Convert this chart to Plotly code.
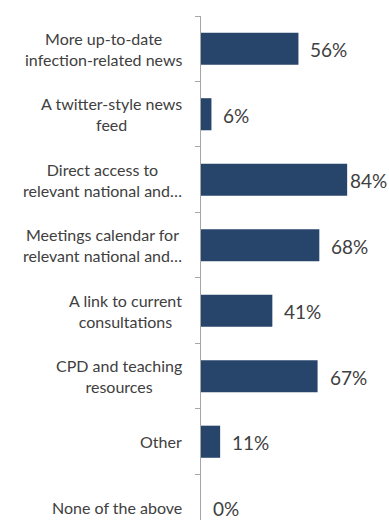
import plotly.graph_objects as go

categories = [
    "More up-to-date<br>infection-related news",
    "A twitter-style news<br>feed",
    "Direct access to<br>relevant national and…",
    "Meetings calendar for<br>relevant national and…",
    "A link to current<br>consultations",
    "CPD and teaching<br>resources",
    "Other",
    "None of the above",
]
values = [56, 6, 84, 68, 41, 67, 11, 0]
value_labels = ["56%", "6%", "84%", "68%", "41%", "67%", "11%", "0%"]
label_shift = [10, 10, 1, 10, 10, 10, 10, 10]

ids = [f"c{i}" for i in range(len(categories))]

fig = go.Figure()
fig.add_trace(go.Bar(
    x=values, y=ids, orientation="h", width=0.49,
    marker=dict(color="#27456B", line=dict(width=0)),
    hoverinfo="skip",
))

anns = []
for cid, cat in zip(ids, categories):
    anns.append(dict(
        x=0, xref="paper", y=cid, yref="y", text=cat, showarrow=False,
        xanchor="right", yanchor="middle", xshift=-17, align="center",
        font=dict(family="Lato", size=16, color="#404040"),
    ))
for cid, v, t, s in zip(ids, values, value_labels, label_shift):
    anns.append(dict(
        x=v, xref="x", y=cid, yref="y", text=t, showarrow=False,
        xanchor="left", yanchor="middle", xshift=s, yshift=-1,
        font=dict(family="Lato", size=19, color="#404040"),
    ))

fig.update_layout(
    width=389, height=520,
    margin=dict(l=201, r=14, t=16, b=0),
    paper_bgcolor="white", plot_bgcolor="white",
    showlegend=False,
    annotations=anns,
    xaxis=dict(range=[0, 100], visible=False, fixedrange=True),
    yaxis=dict(
        type="category", categoryorder="array", categoryarray=ids,
        range=[7.195, -0.5],
        tickson="boundaries", ticks="outside", ticklen=5,
        tickcolor="#A6A6A6", showticklabels=False,
        showline=True, linecolor="#A6A6A6", linewidth=1,
        showgrid=False, zeroline=False,
    ),
)
fig.write_html("out.html")
